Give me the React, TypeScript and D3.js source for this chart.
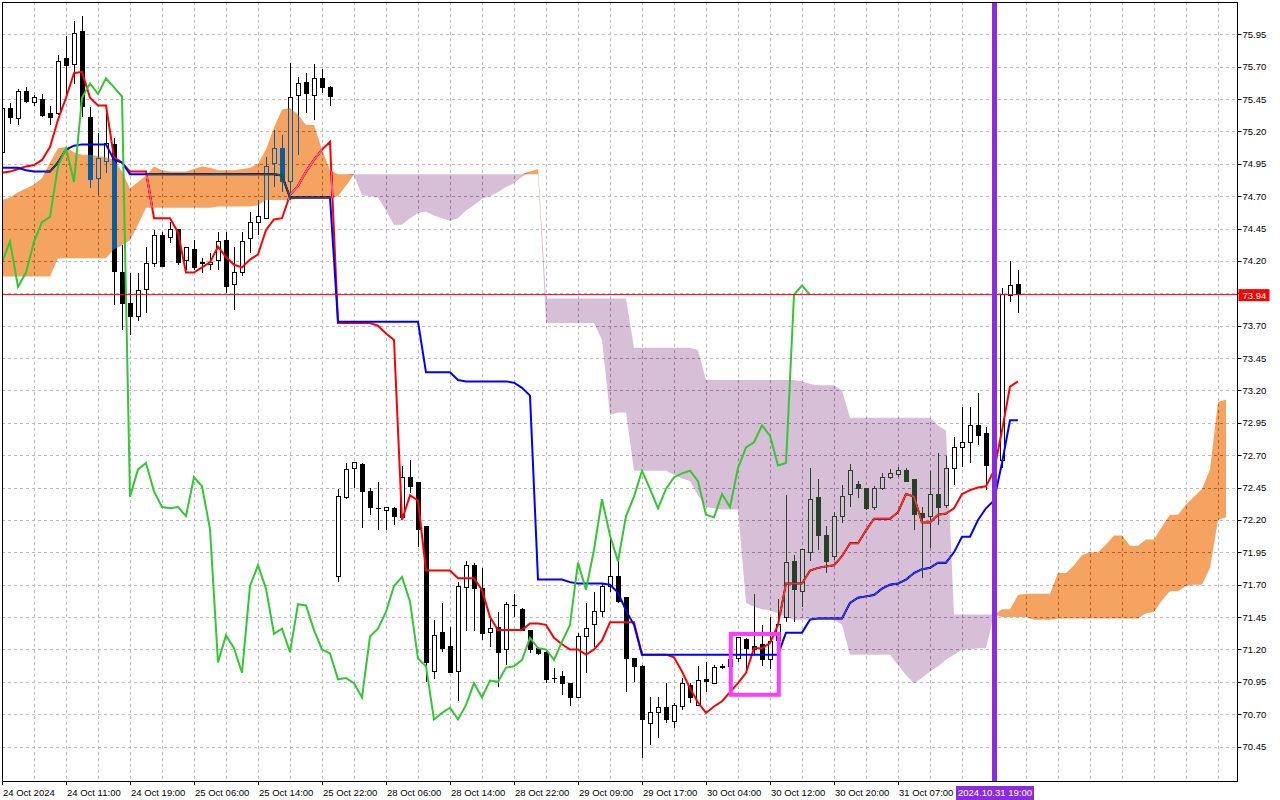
import * as d3 from 'd3';
import { useEffect } from 'react';

// H1 candles, one entry per bar (bar 0 = left edge of the chart)
const openPrices = [
  75.04, 75.38, 75.3, 75.51, 75.42, 75.45, 75.34, 75.34, 75.76, 75.72,
  75.97, 75.31, 74.84, 74.97, 75.1, 74.11, 73.87, 73.77, 73.98, 74.18,
  74.4, 74.38, 74.44, 74.2, 74.29, 74.18, 74.17, 74.2, 74.36, 74.02,
  74.11, 74.37, 74.5, 74.53, 74.95, 75.07, 74.81, 75.48, 75.58, 75.48,
  75.61, 75.54, 71.76, 72.37, 72.6, 72.63, 72.42, 72.29, 72.27, 72.29,
  72.22, 72.53, 72.49, 72.15, 71.03, 71.33, 71.22, 71.03, 71.68, 71.85,
  71.67, 71.33, 71.37, 71.2, 71.54, 71.51, 71.35, 71.21, 71.18, 70.98,
  70.99, 70.94, 70.83, 71.3, 71.39, 71.49, 71.69, 71.76, 71.6, 71.13,
  71.07, 70.63, 70.71, 70.75, 70.64, 70.76, 70.92, 70.77, 70.97, 70.94,
  71.06, 71.07, 71.13, 71.28, 71.22, 71.24, 71.12, 71.27, 71.45, 71.88,
  71.65, 71.95, 72.37, 72.08, 71.92, 72.23, 72.4, 72.47, 72.44, 72.3,
  72.44, 72.53, 72.55, 72.58, 72.51, 72.25, 72.23, 72.4, 72.31, 72.6,
  72.76, 72.8, 72.93, 72.87, 72.62, 72.66, 73.93, 74.02,
];
const highPrices = [
  75.41, 75.42, 75.53, 75.54, 75.48, 75.49, 75.4, 75.79, 75.94, 76.05,
  76.09, 75.39, 75.19, 75.34, 75.15, 74.32, 74.11, 74.11, 74.31, 74.44,
  74.42, 74.5, 74.45, 74.31, 74.36, 74.22, 74.26, 74.42, 74.42, 74.31,
  74.42, 74.58, 74.67, 75.0, 75.21, 75.17, 75.73, 75.62, 75.65, 75.72,
  75.68, 75.55, 72.44, 72.64, 72.64, 72.64, 72.45, 72.49, 72.3, 72.3,
  72.62, 72.66, 72.49, 72.15, 71.43, 71.56, 71.37, 71.72, 71.88, 71.87,
  71.83, 71.45, 71.49, 71.57, 71.63, 71.52, 71.35, 71.22, 71.2, 71.06,
  71.03, 70.94, 71.33, 71.56, 71.64, 71.71, 72.05, 71.88, 71.6, 71.13,
  71.08, 70.83, 70.83, 70.94, 70.79, 70.98, 70.94, 71.07, 71.1, 71.08,
  71.09, 71.16, 71.3, 71.29, 71.63, 71.39, 71.45, 71.59, 72.39, 71.93,
  71.97, 72.6, 72.52, 72.15, 72.26, 72.47, 72.63, 72.5, 72.45, 72.46,
  72.56, 72.59, 72.61, 72.6, 72.51, 72.3, 72.58, 72.72, 72.69, 72.84,
  73.07, 73.07, 73.18, 72.92, 72.76, 73.99, 74.2, 74.13,
];
const lowPrices = [
  74.99, 75.26, 75.25, 75.42, 75.4, 75.31, 75.25, 75.33, 75.48, 75.57,
  75.31, 74.76, 74.71, 74.88, 73.86, 73.67, 73.63, 73.74, 73.8, 74.15,
  74.15, 74.34, 74.17, 74.13, 74.13, 74.11, 74.13, 74.13, 73.95, 73.82,
  74.08, 74.26, 74.4, 74.52, 74.77, 74.73, 74.67, 75.02, 75.34, 75.29,
  75.5, 75.4, 71.72, 72.36, 72.45, 72.14, 72.24, 72.12, 72.12, 72.16,
  72.2, 72.41, 71.99, 70.95, 70.97, 71.18, 71.02, 70.8, 71.34, 71.34,
  71.27, 71.22, 70.91, 71.08, 71.45, 71.34, 71.17, 71.16, 70.94, 70.94,
  70.85, 70.76, 70.83, 71.02, 71.22, 71.45, 71.64, 71.56, 70.87, 70.95,
  70.36, 70.46, 70.52, 70.63, 70.59, 70.73, 70.79, 70.76, 70.87, 70.93,
  71.05, 71.05, 71.1, 71.03, 71.16, 71.07, 71.05, 71.23, 71.41, 71.41,
  71.53, 71.88, 71.97, 71.79, 71.89, 72.18, 72.3, 72.37, 72.28, 72.28,
  72.43, 72.52, 72.53, 72.49, 72.12, 71.75, 71.98, 72.16, 72.29, 72.47,
  72.61, 72.64, 72.78, 72.43, 72.57, 72.6, 73.88, 73.8,
];
const closePrices = [
  75.38, 75.31, 75.51, 75.43, 75.46, 75.32, 75.31, 75.74, 75.71, 75.96,
  75.39, 74.83, 74.99, 75.11, 74.12, 73.87, 73.77, 73.97, 74.18, 74.4,
  74.16, 74.44, 74.19, 74.3, 74.15, 74.19, 74.19, 74.35, 74.0, 74.11,
  74.35, 74.5, 74.54, 74.93, 75.07, 74.81, 75.46, 75.57, 75.49, 75.61,
  75.54, 75.47, 72.38, 72.59, 72.64, 72.42, 72.3, 72.29, 72.3, 72.23,
  72.53, 72.46, 72.13, 71.1, 71.31, 71.21, 71.02, 71.69, 71.85, 71.67,
  71.32, 71.36, 71.18, 71.55, 71.54, 71.35, 71.2, 71.17, 70.97, 70.98,
  70.94, 70.83, 71.3, 71.36, 71.49, 71.69, 71.76, 71.57, 71.13, 71.07,
  70.66, 70.71, 70.75, 70.66, 70.77, 70.94, 70.83, 70.96, 70.95, 71.06,
  71.07, 71.12, 71.29, 71.21, 71.2, 71.12, 71.26, 71.39, 71.87, 71.66,
  71.97, 72.36, 72.08, 71.88, 72.23, 72.38, 72.58, 72.44, 72.29, 72.44,
  72.53, 72.56, 72.58, 72.5, 72.24, 72.22, 72.4, 72.3, 72.6, 72.76,
  72.8, 72.93, 72.85, 72.62, 72.64, 73.94, 74.01, 73.94,
];

// Ichimoku lines
const tenkanSen = [
  74.88, 74.89, 74.91, 74.93, 74.94, 74.98, 75.08, 75.29, 75.46, 75.65,
  75.66, 75.46, 75.4, 75.4, 75.0, 74.96, 74.89, 74.89, 74.89, 74.53,
  74.53, 74.53, 74.42, 74.11, 74.11, 74.15, 74.19, 74.31, 74.23, 74.17,
  74.15, 74.21, 74.25, 74.44, 74.52, 74.53, 74.71, 74.78, 74.89, 74.98,
  75.06, 75.12, 73.72, 73.72, 73.72, 73.72, 73.72, 73.7, 73.64, 73.59,
  72.2, 72.39, 72.35, 71.81, 71.81, 71.81, 71.81, 71.75, 71.75, 71.75,
  71.66, 71.45, 71.35, 71.35, 71.35, 71.35, 71.4, 71.4, 71.39, 71.29,
  71.24, 71.2, 71.2, 71.16, 71.2, 71.27, 71.41, 71.41, 71.41, 71.41,
  71.16, 71.16, 71.16, 71.16, 71.14, 71.03, 70.9, 70.79, 70.71, 70.76,
  70.8, 70.87, 70.94, 71.02, 71.21, 71.21, 71.25, 71.39, 71.71, 71.71,
  71.71, 71.81, 71.83, 71.84, 71.85, 71.92, 72.02, 72.02, 72.12, 72.21,
  72.21, 72.21, 72.26, 72.4, 72.38, 72.18, 72.18, 72.24, 72.25, 72.29,
  72.4, 72.43, 72.45, 72.46, 72.58, 72.89, 73.23, 73.27,
];
const kijunSen = [
  74.92, 74.92, 74.92, 74.9, 74.89, 74.89, 74.89, 74.96, 75.06, 75.09,
  75.1, 75.1, 75.1, 75.1, 74.98, 74.96, 74.87, 74.87, 74.87, 74.87,
  74.87, 74.87, 74.87, 74.87, 74.87, 74.87, 74.87, 74.87, 74.87, 74.87,
  74.87, 74.87, 74.87, 74.87, 74.87, 74.86, 74.69, 74.69, 74.69, 74.69,
  74.69, 74.69, 73.73, 73.73, 73.73, 73.73, 73.73, 73.73, 73.73, 73.73,
  73.73, 73.73, 73.73, 73.34, 73.34, 73.34, 73.34, 73.28, 73.27, 73.27,
  73.27, 73.27, 73.27, 73.27, 73.26, 73.22, 73.16, 71.74, 71.74, 71.74,
  71.74, 71.72, 71.71, 71.71, 71.71, 71.71, 71.7, 71.64, 71.5, 71.39,
  71.16, 71.16, 71.16, 71.16, 71.16, 71.16, 71.16, 71.16, 71.16, 71.16,
  71.16, 71.16, 71.16, 71.16, 71.16, 71.16, 71.16, 71.16, 71.33, 71.33,
  71.33, 71.43, 71.44, 71.44, 71.44, 71.44, 71.56, 71.6, 71.61, 71.62,
  71.67, 71.7, 71.71, 71.74, 71.79, 71.82, 71.83, 71.87, 71.87, 71.95,
  72.07, 72.07, 72.2, 72.29, 72.35, 72.64, 72.97, 72.97,
];
// Senkou spans, already shifted 26 bars forward (154 bars)
const senkouSpanA = [
  74.67, 74.69, 74.73, 74.76, 74.79, 74.84, 74.96, 75.07, 75.08, 75.04,
  75.02, 75.02, 75.01, 75.0, 74.98, 74.89, 74.76, 74.81, 74.86, 74.93,
  74.9, 74.89, 74.89, 74.89, 74.91, 74.93, 74.92, 74.9, 74.9, 74.9,
  74.91, 74.92, 74.95, 75.06, 75.23, 75.37, 75.38, 75.33, 75.25, 75.25,
  75.06, 74.9, 74.87, 74.87, 74.86, 74.71, 74.7, 74.69, 74.59, 74.48,
  74.48, 74.53, 74.57, 74.58, 74.55, 74.53, 74.51, 74.53, 74.59, 74.63,
  74.68, 74.7, 74.73, 74.77, 74.8, 74.85, 74.89, 74.91, 73.72, 73.72,
  73.72, 73.72, 73.72, 73.72, 73.72, 73.59, 73.01, 73.03, 73.03, 72.58,
  72.58, 72.58, 72.58, 72.58, 72.55, 72.52, 72.5, 72.39, 72.3, 72.29,
  72.28, 72.28, 72.28, 71.56, 71.53, 71.51, 71.5, 71.48, 71.45, 71.43,
  71.43, 71.43, 71.43, 71.43, 71.43, 71.39, 71.16, 71.16, 71.16, 71.16,
  71.16, 71.16, 71.08, 71.0, 70.94, 70.98, 71.03, 71.07, 71.12, 71.16,
  71.2, 71.2, 71.21, 71.21, 71.47, 71.51, 71.51, 71.62, 71.63, 71.63,
  71.63, 71.63, 71.79, 71.79, 71.85, 71.93, 71.95, 71.95, 72.01, 72.08,
  72.08, 72.0, 72.0, 72.05, 72.05, 72.15, 72.24, 72.24, 72.32, 72.38,
  72.44, 72.59, 73.11, 73.13,
];
const senkouSpanB = [
  74.08, 74.08, 74.08, 74.08, 74.08, 74.08, 74.08, 74.22, 74.22, 74.22,
  74.22, 74.22, 74.22, 74.22, 74.29, 74.32, 74.36, 74.48, 74.61, 74.61,
  74.61, 74.61, 74.61, 74.61, 74.61, 74.61, 74.61, 74.62, 74.62, 74.62,
  74.62, 74.62, 74.63, 74.67, 74.67, 74.67, 74.67, 74.68, 74.68, 74.68,
  74.68, 74.68, 74.7, 74.78, 74.87, 74.87, 74.87, 74.87, 74.87, 74.87,
  74.87, 74.87, 74.87, 74.87, 74.87, 74.87, 74.87, 74.87, 74.87, 74.87,
  74.87, 74.87, 74.87, 74.87, 74.87, 74.87, 74.87, 74.87, 73.91, 73.91,
  73.91, 73.91, 73.91, 73.91, 73.91, 73.91, 73.91, 73.91, 73.91, 73.53,
  73.53, 73.53, 73.53, 73.53, 73.53, 73.53, 73.53, 73.51, 73.28, 73.28,
  73.28, 73.28, 73.28, 73.28, 73.28, 73.28, 73.28, 73.28, 73.28, 73.28,
  73.27, 73.25, 73.24, 73.24, 73.24, 73.2, 72.99, 72.99, 72.99, 72.99,
  72.99, 72.99, 72.99, 72.99, 72.99, 72.99, 72.99, 72.93, 72.89, 71.47,
  71.47, 71.47, 71.47, 71.47, 71.47, 71.45, 71.45, 71.45, 71.45, 71.43,
  71.43, 71.43, 71.44, 71.44, 71.44, 71.44, 71.44, 71.44, 71.44, 71.44,
  71.44, 71.44, 71.44, 71.48, 71.49, 71.58, 71.65, 71.65, 71.69, 71.7,
  71.7, 71.83, 72.2, 72.22,
];
const chikouShift = 26;

const priceTicks = [
  70.45, 70.7, 70.95, 71.2, 71.45, 71.7, 71.95, 72.2, 72.45, 72.7, 72.95, 73.2,
  73.45, 73.7, 73.95, 74.2, 74.45, 74.7, 74.95, 75.2, 75.45, 75.7, 75.95,
];
const timeLabels = [
  '24 Oct 2024', '24 Oct 11:00', '24 Oct 19:00', '25 Oct 06:00', '25 Oct 14:00',
  '25 Oct 22:00', '28 Oct 06:00', '28 Oct 14:00', '28 Oct 22:00', '29 Oct 09:00',
  '29 Oct 17:00', '30 Oct 04:00', '30 Oct 12:00', '30 Oct 20:00', '31 Oct 07:00',
];
const timeLabelStep = 8;
const cursorBar = 124;
const cursorLabel = '2024.10.31 19:00';
const bidPrice = 73.94;
const markBars = [91.1, 97.1];
const markPrices = [71.32, 70.85];

const plotLeft = 2;
const plotRight = 1237.5;
const plotTop = 2;
const plotBottom = 781;
const font = '"Liberation Sans", Arial, sans-serif';

const App = () => {
  useEffect(() => {
    document.body.style.margin = '0';
  }, []);

  // Get the axis scales.
  const x = d3.scaleLinear().domain([0, 153]).range([2, 1226]);
  const y = d3.scaleLinear().domain([70.45, 75.95]).range([746.6, 34.3]);

  const bars = d3.range(senkouSpanA.length);
  const candleBars = d3.range(closePrices.length);
  const chikouBars = d3.range(closePrices.length - chikouShift);

  // Cloud: drawn in "difference" mode, like the XOR fill of the terminal
  const bullCloud = d3
    .area<number>()
    .x((i) => x(i))
    .y0((i) => y(senkouSpanB[i]))
    .y1((i) => y(Math.max(senkouSpanA[i], senkouSpanB[i])));
  const bearCloud = d3
    .area<number>()
    .x((i) => x(i))
    .y0((i) => y(senkouSpanA[i]))
    .y1((i) => y(Math.max(senkouSpanA[i], senkouSpanB[i])));

  const lineOf = (values: number[]) =>
    d3
      .line<number>()
      .x((i) => x(i))
      .y((i) => y(values[i]));

  const chikouLine = d3
    .line<number>()
    .x((i) => x(i))
    .y((i) => y(closePrices[i + chikouShift]));

  const vGrid = d3.range(0, senkouSpanA.length, 4).map((i) => x(i));

  return (
    <svg
      width={1280}
      height={800}
      style={{ position: 'absolute', left: 0, top: 0, display: 'block' }}
    >
      <defs>
        <clipPath id="plot-clip">
          <rect x={plotLeft} y={plotTop} width={plotRight - plotLeft} height={plotBottom - plotTop} />
        </clipPath>
      </defs>
      <rect x={0} y={0} width={1280} height={800} fill="#ffffff" />

      <g clipPath="url(#plot-clip)">
        {/* backdrop inside the clipped group so the blended cloud has white under it */}
        <rect x={0} y={0} width={1280} height={800} fill="#ffffff" />

        {/* grid */}
        <g stroke="#c0b8c4" strokeWidth={1} strokeDasharray="3,3" shapeRendering="crispEdges">
          {priceTicks.map((p) => (
            <line key={`h${p}`} x1={plotLeft} x2={plotRight} y1={Math.round(y(p)) + 0.5} y2={Math.round(y(p)) + 0.5} />
          ))}
          {vGrid.map((gx) => (
            <line key={`v${gx}`} x1={gx + 0.5} x2={gx + 0.5} y1={plotTop} y2={plotBottom} />
          ))}
        </g>

        {/* candles */}
        <g shapeRendering="crispEdges">
          {candleBars.map((i) => {
            const cx = x(i);
            const o = y(openPrices[i]);
            const c = y(closePrices[i]);
            const top = Math.min(o, c);
            const h = Math.abs(o - c);
            const bull = closePrices[i] >= openPrices[i];
            return (
              <g key={`c${i}`}>
                <line x1={cx + 0.5} x2={cx + 0.5} y1={y(highPrices[i])} y2={y(lowPrices[i])} stroke="#000" />
                {h < 1 ? (
                  <line x1={cx - 2} x2={cx + 3} y1={top + 0.5} y2={top + 0.5} stroke="#000" />
                ) : (
                  <rect x={cx - 1.5} y={top} width={4} height={h} fill={bull ? '#fff' : '#000'} stroke="#000" />
                )}
              </g>
            );
          })}
        </g>

        <path d={lineOf(tenkanSen)(candleBars) ?? ''} fill="none" stroke="#ff0000" strokeWidth={2} />
        <path d={lineOf(kijunSen)(candleBars) ?? ''} fill="none" stroke="#0000ff" strokeWidth={2} />

        <path d={bullCloud(bars) ?? ''} fill="rgb(11,91,159)" style={{ mixBlendMode: 'difference' }} />
        <path d={bearCloud(bars) ?? ''} fill="rgb(39,64,39)" style={{ mixBlendMode: 'difference' }} />

        <path d={chikouLine(chikouBars) ?? ''} fill="none" stroke="#32c832" strokeWidth={2} />

        {/* bid line */}
        <line x1={plotLeft} x2={plotRight} y1={y(bidPrice)} y2={y(bidPrice)} stroke="#ff0000" strokeWidth={1} />

        {/* marked zone */}
        <rect
          x={x(markBars[0])}
          y={y(markPrices[0])}
          width={x(markBars[1]) - x(markBars[0])}
          height={y(markPrices[1]) - y(markPrices[0])}
          fill="none"
          stroke="#ff3cff"
          strokeWidth={4}
        />

        {/* vertical cursor */}
        <line x1={x(cursorBar) + 0.5} x2={x(cursorBar) + 0.5} y1={plotTop} y2={plotBottom} stroke="#8a2be2" strokeWidth={5} />
      </g>

      {/* frame */}
      <rect
        x={plotLeft}
        y={plotTop}
        width={plotRight - plotLeft}
        height={plotBottom - plotTop}
        fill="none"
        stroke="#000"
        strokeWidth={1}
        shapeRendering="crispEdges"
      />

      {/* price axis */}
      <g fontFamily={font} fontSize={9.5} fill="#000">
        {priceTicks.map((p) => (
          <g key={`pt${p}`}>
            <line x1={plotRight} x2={plotRight + 4} y1={Math.round(y(p)) + 0.5} y2={Math.round(y(p)) + 0.5} stroke="#000" />
            <text x={plotRight + 5} y={y(p) + 3.5}>
              {p.toFixed(2)}
            </text>
          </g>
        ))}
        <rect x={plotRight + 1} y={y(bidPrice) - 5.5} width={31} height={12} fill="#ff0000" />
        <text x={plotRight + 5} y={y(bidPrice) + 4} fill="#fff">
          {bidPrice.toFixed(2)}
        </text>
      </g>

      {/* time axis */}
      <g fontFamily={font} fontSize={9.5} fill="#000">
        {timeLabels.map((t, k) => {
          const tx = x(k * timeLabelStep);
          return (
            <g key={`tl${k}`}>
              <line x1={tx + 0.5} x2={tx + 0.5} y1={plotBottom} y2={plotBottom + 4} stroke="#000" />
              <text x={tx + 1} y={796}>
                {t}
              </text>
            </g>
          );
        })}
        <rect x={x(cursorBar) - 38} y={786} width={78} height={14} fill="#8a2be2" />
        <text x={x(cursorBar) + 1} y={796} fill="#fff" textAnchor="middle">
          {cursorLabel}
        </text>
      </g>
    </svg>
  );
};

export default App;
